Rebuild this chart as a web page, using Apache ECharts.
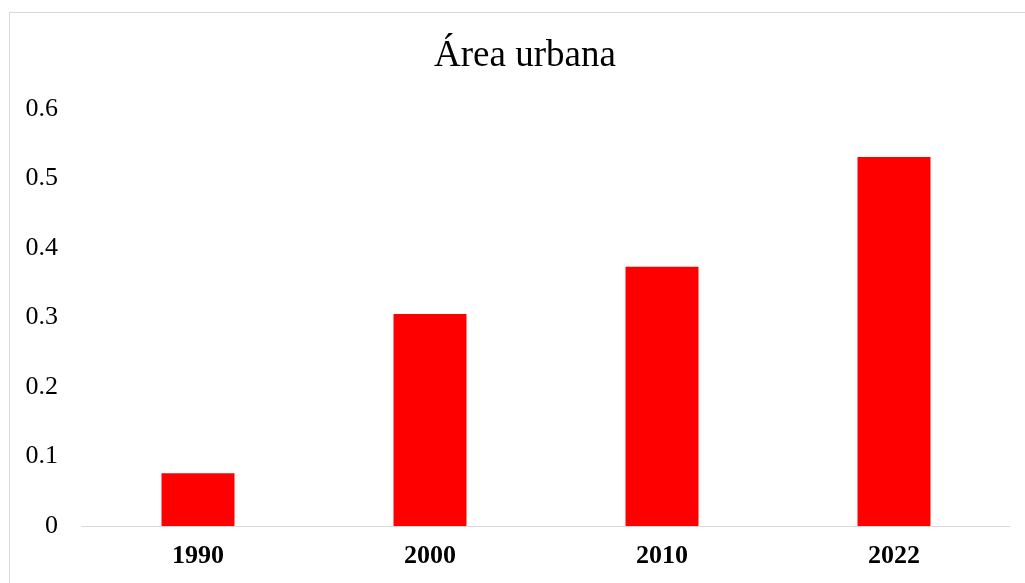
<!DOCTYPE html>
<html>
<head>
<meta charset="utf-8">
<script src="https://cdn.jsdelivr.net/npm/echarts@6/dist/echarts.min.js"></script>
<style>
  html, body { margin: 0; padding: 0; background: #fff; overflow: hidden; }
  #frame {
    position: absolute; left: 9px; top: 12px; width: 1100px; height: 700px;
    border: 1px solid #d9d9d9; box-sizing: border-box;
  }
  #chart { position: absolute; left: 0; top: 0; width: 1025px; height: 583px; }
</style>
</head>
<body>
<div id="frame"></div>
<div id="chart"></div>
<script>
const years = ["1990", "2000", "2010", "2022"];
const areaValues = [0.076, 0.305, 0.373, 0.531];
const yTicks = [0, 0.1, 0.2, 0.3, 0.4, 0.5, 0.6];

const chart = echarts.init(document.getElementById("chart"));
const option = {
  animation: false,
  title: {
    text: "Área urbana",
    left: 429,
    top: 33,
    textStyle: {
      fontFamily: "Liberation Serif",
      fontSize: 37,
      fontWeight: "normal",
      color: "#000",
    },
  },
  grid: { left: 82, right: 15, top: 109, bottom: 57 },
  xAxis: {
    type: "category",
    data: years,
    axisLine: { lineStyle: { color: "#d9d9d9", width: 1 } },
    axisTick: { show: false },
    axisLabel: {
      margin: 17,
      fontFamily: "Liberation Serif",
      fontSize: 26,
      fontWeight: "bold",
      color: "#000",
    },
  },
  yAxis: {
    type: "value",
    min: yTicks[0],
    max: yTicks[yTicks.length - 1],
    interval: 0.1,
    splitLine: { show: false },
    axisLine: { show: false },
    axisTick: { show: false },
    axisLabel: {
      margin: 24,
      fontFamily: "Liberation Serif",
      fontSize: 26,
      color: "#000",
      formatter: (v) => String(Math.round(v * 10) / 10),
    },
  },
  series: [
    {
      type: "bar",
      data: areaValues,
      barWidth: 73,
      itemStyle: { color: "#ff0000" },
    },
  ],
};
chart.setOption(option);
</script>
</body>
</html>
